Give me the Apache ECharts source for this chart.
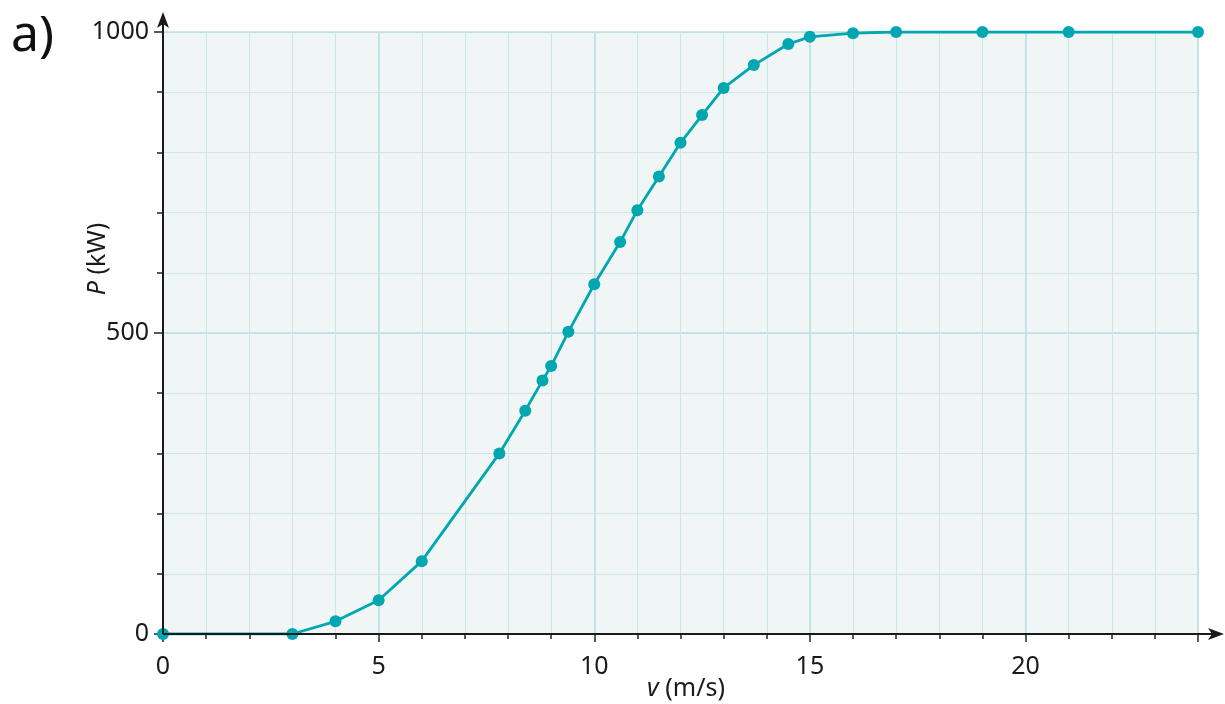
<!DOCTYPE html>
<html>
<head>
<meta charset="utf-8">
<script src="https://cdn.jsdelivr.net/npm/echarts@6/dist/echarts.min.js"></script>
<style>html,body{margin:0;padding:0;background:#fff;}#c{width:1225px;height:704px;}</style>
</head>
<body>
<div id="c"></div>
<script>
const speeds = [0, 3, 4, 5, 6, 7.8, 8.4, 8.8, 9, 9.4, 10, 10.6, 11, 11.5, 12, 12.5, 13, 13.7, 14.5, 15, 16, 17, 19, 21, 24];
const powers = [0, 0, 21, 56, 121, 300, 371, 421, 445, 502, 581, 651, 704, 760, 816, 862, 907, 945, 980, 992, 998, 1000, 1000, 1000, 1000];
const xMajorLabels = [0, 5, 10, 15, 20];
const yMajorLabels = [0, 500, 1000];

const FONT = '"Noto Sans", "Open Sans", sans-serif';
const FS = 25;
const TEAL = '#00a6b0';
const chart = echarts.init(document.getElementById('c'), null, {renderer: 'canvas'});
const data = speeds.map((v, i) => [v, powers[i]]);

const gridL = 163, gridR = 27, gridT = 32, gridB = 70;
const x0 = gridL, y0 = 704 - gridB;

chart.setOption({
  animation: false,
  grid: {left: gridL, right: gridR, top: gridT, bottom: gridB, show: true, backgroundColor: '#f0f6f6', borderWidth: 0,
         containLabel: false, outerBoundsMode: 'none'},
  xAxis: [
    {type: 'value', min: 0, max: 24, interval: 1,
     axisLine: {show: false},
     axisTick: {show: true, length: 5, lineStyle: {color: '#222', width: 1.5}},
     axisLabel: {show: false},
     splitLine: {show: true, lineStyle: {color: '#cde6e9', width: 1}}},
    {type: 'value', min: 0, max: 24, interval: 5, position: 'bottom',
     axisLine: {show: false},
     axisTick: {show: true, length: 8, lineStyle: {color: '#222', width: 1.5}},
     axisLabel: {show: true, margin: 20, fontSize: FS, color: '#1a1a1a', fontFamily: FONT,
       formatter: v => xMajorLabels.includes(v) ? String(v) : ''},
     splitLine: {show: true, lineStyle: {color: '#bcdfe3', width: 1.5}}}
  ],
  yAxis: [
    {type: 'value', min: 0, max: 1000, interval: 100,
     axisLine: {show: false},
     axisTick: {show: true, length: 6, lineStyle: {color: '#222', width: 1.5}},
     axisLabel: {show: false},
     splitLine: {show: true, lineStyle: {color: '#cde6e9', width: 1}}},
    {type: 'value', min: 0, max: 1000, interval: 500, position: 'left',
     axisLine: {show: false},
     axisTick: {show: true, length: 9, lineStyle: {color: '#222', width: 1.5}},
     axisLabel: {show: true, margin: 14, fontSize: FS, color: '#1a1a1a', fontFamily: FONT,
       formatter: v => yMajorLabels.includes(v) ? String(v) : ''},
     splitLine: {show: true, lineStyle: {color: '#bcdfe3', width: 1.5}}}
  ],
  graphic: [
    {type: 'line', silent: true, z: 50, shape: {x1: x0, y1: y0, x2: 1214, y2: y0}, style: {stroke: '#1a1a1a', lineWidth: 2}},
    {type: 'polygon', silent: true, z: 50, shape: {points: [[1224, y0], [1208, y0 - 6], [1212, y0], [1208, y0 + 6]]}, style: {fill: '#1a1a1a'}},
    {type: 'line', silent: true, z: 50, shape: {x1: x0, y1: y0, x2: x0, y2: 22}, style: {stroke: '#1a1a1a', lineWidth: 2}},
    {type: 'polygon', silent: true, z: 50, shape: {points: [[x0, 12], [x0 - 6, 28], [x0, 24], [x0 + 6, 28]]}, style: {fill: '#1a1a1a'}},
    {type: 'text', silent: true, left: 11, top: 12, style: {text: 'a)', fontSize: 50, fontFamily: FONT, fill: '#111'}},
    {type: 'text', silent: true, x: 686, y: 689, z: 60,
     style: {text: '{i|v} (m/s)', fontSize: FS, fontFamily: FONT, fill: '#1a1a1a', align: 'center', verticalAlign: 'middle',
       rich: {i: {fontStyle: 'italic', fontSize: FS, fontFamily: FONT, fill: '#1a1a1a'}}}},
    {type: 'text', silent: true, x: 98, y: 259, rotation: Math.PI / 2, z: 60,
     style: {text: '{i|P} (kW)', fontSize: FS, fontFamily: FONT, fill: '#1a1a1a', align: 'center', verticalAlign: 'middle',
       rich: {i: {fontStyle: 'italic', fontSize: FS, fontFamily: FONT, fill: '#1a1a1a'}}}}
  ],
  series: [{
    type: 'line', xAxisIndex: 0, yAxisIndex: 0, data: data,
    symbol: 'circle', symbolSize: 12, z: 10,
    lineStyle: {color: TEAL, width: 2.8},
    itemStyle: {color: TEAL}
  }]
});
</script>
</body>
</html>
